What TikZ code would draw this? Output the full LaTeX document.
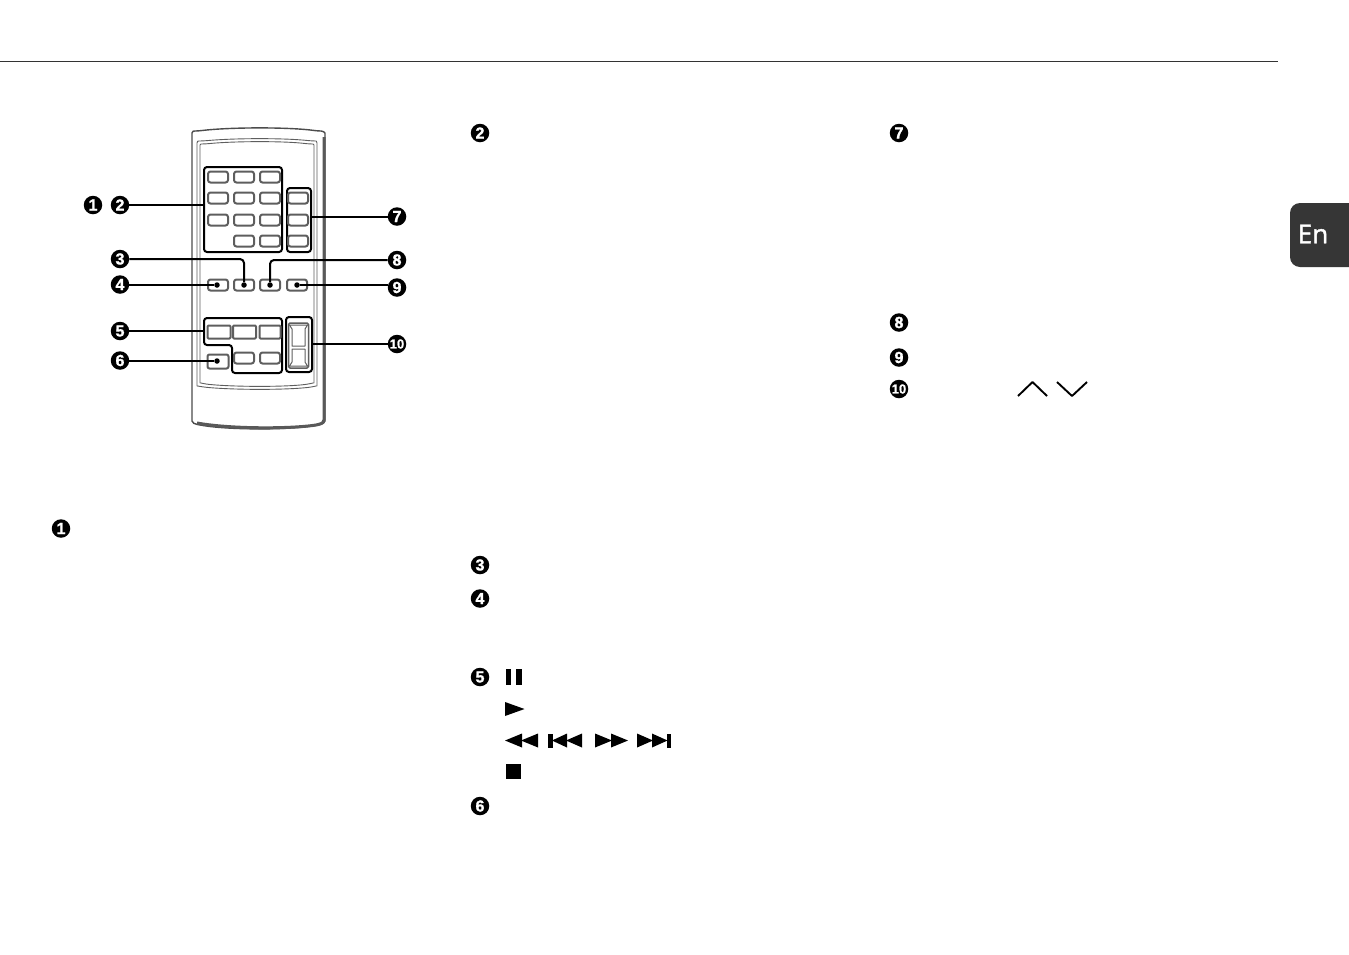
\documentclass[tikz,border=0pt]{standalone}
\usepackage{fontspec}
\setmainfont{Liberation Sans}
\newfontfamily\tabfont[FakeBold=1.6]{Open Sans}
\newfontfamily\badgefont[FakeBold=1.4]{Liberation Sans Bold}
\definecolor{tabgrey}{HTML}{363636}
\definecolor{btngrey}{HTML}{5E5E5E}
\tikzset{
  badge/.style={circle,fill=black,text=white,inner sep=0pt,minimum size=18.5pt,font=\fontsize{16}{16}\selectfont\badgefont},
  badgeten/.style={badge,font=\fontsize{13}{13}\selectfont\badgefont},
  rbtn/.style={draw=btngrey,line width=2pt,rounded corners=2.5pt,fill=white,inner sep=0pt,minimum width=20pt,minimum height=11pt},
  grp/.style={draw=black,line width=2pt,rounded corners=3pt,inner sep=0pt},
  lead/.style={draw=black,line width=2pt,rounded corners=4pt},
  dotmark/.style={circle,fill=black,inner sep=0pt,minimum size=5.5pt},
  sym/.style={fill=black,draw=none},
  shell/.style={draw=btngrey,line width=1pt}
}
\begin{document}
\begin{tikzpicture}[x=1pt,y=-1pt,line join=round]
\useasboundingbox (0,0) rectangle (1349,954);
\fill[white] (0,0) rectangle (1349,954);
\coordinate (ruleL) at (0,61.5);
\coordinate (ruleR) at (1278,61.5);
\draw[line width=0.7pt,black!80] (ruleL) -- (ruleR);
% tab
\fill[tabgrey] (1349,203) -- (1300,203) arc[start angle=90,end angle=180,x radius=10,y radius=-10] -- (1290,257) arc[start angle=180,end angle=270,x radius=10,y radius=-10] -- (1349,267) -- cycle;
\node[text=white,font=\fontsize{26}{26}\selectfont\tabfont,inner sep=0pt] (entab) at (1313,234) {En};
% remote shell
\draw[draw=black!70,line width=1.4pt,fill=white,rounded corners=3pt]
  (192,136) .. controls (192,131) and (194,131) .. (198,131) .. controls (230,127) and (290,127) .. (318,131) .. controls (322,131) and (325,132) .. (325,136)
  -- (325,418) .. controls (325,423) and (322,424) .. (318,425) .. controls (290,430) and (230,430) .. (200,425) .. controls (195,424) and (192,423) .. (192,418) -- cycle;
\draw[draw=black!65,line width=3pt] (324,137) -- (324,420) .. controls (323,424) and (320,424) .. (316,425) .. controls (290,429) and (230,429) .. (197,423);
\draw[shell,rounded corners=4pt,line width=0.9pt] (197,147) .. controls (197,141) and (198,141) .. (203,141) .. controls (235,138) and (285,138) .. (312,141) .. controls (316,141) and (317,142) .. (317,147) -- (317,382) .. controls (317,386) and (316,386) .. (312,387) .. controls (285,390) and (235,390) .. (203,387) .. controls (198,386) and (197,386) .. (197,382) -- cycle;
\draw[shell,rounded corners=4pt,line width=0.9pt] (200,149) .. controls (200,144) and (201,144) .. (205,144) .. controls (235,141) and (285,141) .. (309,144) .. controls (313,144) and (314,145) .. (314,149) -- (314,379) .. controls (314,383) and (313,383) .. (309,384) .. controls (285,387) and (235,387) .. (205,384) .. controls (201,383) and (200,383) .. (200,379) -- cycle;
% groups
\node[grp,minimum width=78pt,minimum height=85pt] (g2) at (243,209.5) {};
\node[grp,minimum width=24pt,minimum height=64pt] (g7) at (299,220) {};
\draw[grp] (204,318) -- (282,318) -- (282,373) -- (232,373) -- (232,345) -- (204,345) -- cycle;
\coordinate (g5w) at (204,331);
\node[grp,minimum width=26pt,minimum height=55pt] (g10) at (299,344.5) {};
% number pad
\foreach \nm/\x/\y in {a/218/177,b/244/177,c/270/177,d/218/198,e/244/198,f/270/198,g/218/220,h/244/220,i/270/220,j/244/241,k/270/241,l/298/198,m/298/220,n/298/241,o/218/285,p/244/285,q/270/285,r/297/285,s/244/358,t/270/358}
  \node[rbtn] (btn\nm) at (\x,\y) {};
\node[rbtn,minimum width=23pt,minimum height=13pt,rounded corners=1pt] (btnu) at (219,332) {};
\node[rbtn,minimum width=23pt,minimum height=13pt,rounded corners=1pt] (btnv) at (244.5,332) {};
\node[rbtn,minimum width=21pt,minimum height=13pt,rounded corners=1pt] (btnw) at (270,332) {};
\node[rbtn,minimum width=21pt,minimum height=14pt,rounded corners=2pt] (btnx) at (218,361.5) {};
% up/down rocker
\draw[btngrey,line width=1.5pt,rounded corners=1.5pt] (288.5,323) -- (308.5,323) -- (308.5,368) -- (288.5,368) -- cycle;
\draw[btngrey,line width=1pt] (289.5,325) -- (307.5,325) -- (305,329) -- (305,346) -- (292,346) -- (292,329) -- cycle;
\draw[btngrey,line width=1pt] (292,349) -- (305,349) -- (305,362) -- (307.5,366) -- (289.5,366) -- (292,362) -- cycle;
% dots
\node[dotmark] (d4) at (217,285) {};
\node[dotmark] (d3) at (244,285) {};
\node[dotmark] (d8) at (270,285) {};
\node[dotmark] (d9) at (297,285) {};
\node[dotmark] (d6) at (217,361) {};
% remote badges
\node[badge] (r1) at (93,205) {1};
\node[badge] (r2) at (120,205) {2};
\node[badge] (r3) at (120,259) {3};
\node[badge] (r4) at (120,284.5) {4};
\node[badge] (r5) at (120,331) {5};
\node[badge] (r6) at (120,360.5) {6};
\node[badge] (r7) at (397,216.5) {7};
\node[badge] (r8) at (397,260) {8};
\node[badge] (r9) at (397,287.5) {9};
\node[badgeten] (r10) at (397,344) {10};
% connectors
\draw[lead] (r2.east) -- (g2.west |- r2.east);
\draw[lead] (r3.east) -| (d3);
\draw[lead] (r4.east |- d4) -- (d4);
\draw[lead] (r5.east) -- (g5w);
\draw[lead] (r6.east |- d6) -- (d6);
\draw[lead] (r7.west) -- (g7.east |- r7.west);
\draw[lead] (r8.west) -| (d8);
\draw[lead] (r9.west |- d9) -- (d9);
\draw[lead] (r10.west) -- (g10.east |- r10.west);
% text-column badges
\node[badge] (t1) at (61,528.5) {1};
\node[badge] (t2) at (480,133) {2};
\node[badge] (t3) at (480,565) {3};
\node[badge] (t4) at (480,598.5) {4};
\node[badge] (t5) at (480,677) {5};
\node[badge] (t6) at (480,806) {6};
\node[badge] (t7) at (899,133) {7};
\node[badge] (t8) at (899,322.5) {8};
\node[badge] (t9) at (899,357.5) {9};
\node[badgeten] (t10) at (899,389) {10};
% transport symbols
\fill[sym] (505.5,669) rectangle (511,684.5);
\fill[sym] (515.5,669) rectangle (521.5,684.5);
\fill[sym] (505,702) -- (524.5,709) -- (505,716) -- cycle;
\fill[sym] (522,733.5) -- (505,740.5) -- (522,747.5) -- cycle;
\fill[sym] (538,733.5) -- (521,740.5) -- (538,747.5) -- cycle;
\fill[sym] (548,733.5) rectangle (552.5,747.5);
\fill[sym] (567,733.5) -- (552,740.5) -- (567,747.5) -- cycle;
\fill[sym] (582,733.5) -- (566,740.5) -- (582,747.5) -- cycle;
\fill[sym] (595,733.5) -- (612,740.5) -- (595,747.5) -- cycle;
\fill[sym] (611,733.5) -- (628,740.5) -- (611,747.5) -- cycle;
\fill[sym] (637,733.5) -- (653,740.5) -- (637,747.5) -- cycle;
\fill[sym] (652,733.5) -- (667.5,740.5) -- (652,747.5) -- cycle;
\fill[sym] (667,733.5) rectangle (671,747.5);
\fill[sym] (506,764) rectangle (521,779);
% chevrons
\draw[line width=1.9pt] (1018,396) -- (1032.5,382) -- (1047,396);
\draw[line width=1.9pt] (1057,382) -- (1072,396) -- (1087,382);
\end{tikzpicture}
\end{document}
